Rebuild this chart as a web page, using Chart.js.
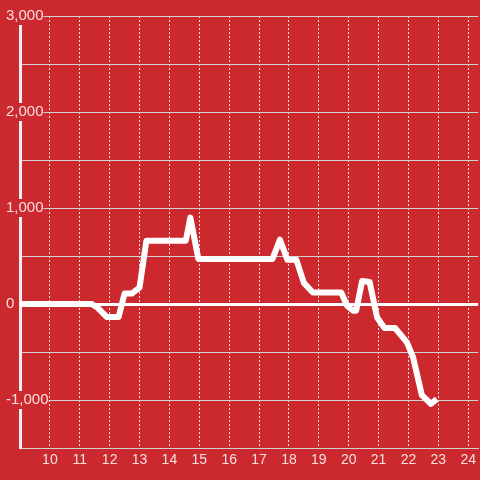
<!DOCTYPE html>
<html>
<head>
<meta charset="utf-8">
<script src="https://cdn.jsdelivr.net/npm/chart.js@4.4.1/dist/chart.umd.min.js"></script>
<style>
  html, body { margin: 0; padding: 0; background: #cc292e; }
  #wrap { width: 480px; height: 480px; }
</style>
</head>
<body>
<div id="wrap"><canvas id="chart" width="480" height="480"></canvas></div>
<script>
// values
const hours = [9, 11.4, 11.6, 11.9, 12.3, 12.5, 12.75, 13.0, 13.23, 14.55, 14.7, 14.97,
    17.45, 17.7, 17.95, 18.25, 18.5, 18.8, 19.75, 19.95, 20.15, 20.25, 20.45, 20.7,
    20.95, 21.2, 21.55, 21.95, 22.15, 22.45, 22.75, 22.95];
const values = [0, 0, -40, -135, -135, 110, 110, 170, 660, 660, 900, 470,
    470, 670, 460, 460, 220, 120, 120, -20, -70, -70, 240, 230,
    -140, -250, -250, -400, -550, -950, -1040, -990];
const xTicks = [10, 11, 12, 13, 14, 15, 16, 17, 18, 19, 20, 21, 22, 23, 24];

const red = '#cc292e';
const labelColor = 'rgba(255,255,255,0.85)';

let points = hours.map((h, i) => ({ x: h, y: values[i] }));

new Chart(document.getElementById('chart'), {
    type: 'line',
    data: {
        datasets: [{
            data: points,
            borderColor: '#ffffff',
            borderWidth: 6,
            borderJoinStyle: 'round',
            pointRadius: 0,
            tension: 0,
            fill: false
        }]
    },
    options: {
        responsive: false,
        animation: false,
        layout: { padding: { top: 16, left: 6, right: 0, bottom: 0 } },
        plugins: { legend: { display: false }, tooltip: { enabled: false } },
        scales: {
            x: {
                type: 'linear',
                min: 9,
                max: 24.333,
                afterBuildTicks: scale => {
                    scale.ticks = xTicks.map(v => ({ value: v }));
                },
                afterFit: scale => { scale.height = 32; },
                grid: {
                    color: 'rgba(255,255,255,0.85)',
                    drawTicks: false
                },
                // in v4 the dash here applies to the grid lines
                border: { color: '#d0d0d0', width: 1, dash: [2, 2] },
                ticks: {
                    color: labelColor,
                    font: { family: 'Liberation Sans', size: 14 },
                    padding: 4,
                    maxRotation: 0,
                    autoSkip: false
                }
            },
            y: {
                min: -1500,
                max: 3000,
                afterFit: scale => { scale.width = 14; },
                grid: {
                    color: ctx => ctx.tick && ctx.tick.value === 0 ? '#ffffff' : '#d0d0d0',
                    lineWidth: ctx => ctx.tick && ctx.tick.value === 0 ? 3 : 1,
                    drawTicks: false
                },
                border: { color: '#f0f0f0', width: 3 },
                ticks: {
                    stepSize: 500,
                    mirror: true,
                    crossAlign: 'near',
                    padding: -14,
                    color: labelColor,
                    font: { family: 'Liberation Sans', size: 15 },
                    showLabelBackdrop: true,
                    backdropColor: ctx => ctx.tick.value % 1000 === 0 ? red : 'rgba(0,0,0,0)',
                    backdropPadding: { top: 0, bottom: 0, left: 0, right: 0 },
                    callback: v => v % 1000 === 0 ? v.toLocaleString('en-US') : ''
                }
            }
        }
    }
});
</script>
</body>
</html>
